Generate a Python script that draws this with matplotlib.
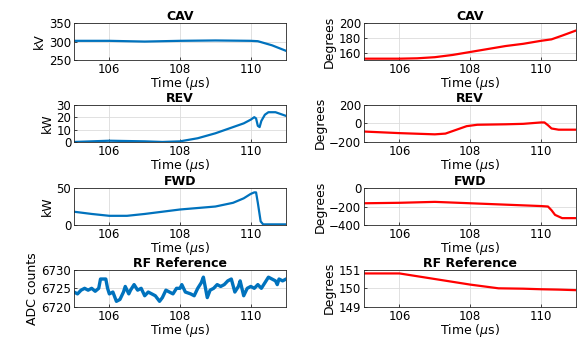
import matplotlib
matplotlib.use("Agg")
import matplotlib.pyplot as plt

plt.rcParams["font.family"] = ["DejaVu Sans"]
plt.rcParams["mathtext.fontset"] = "dejavusans"

BLUE = "#0072BD"
RED = "#FF0000"

# amplitude traces (left column)
cav_amp_t = [105.0, 106.0, 107.0, 108.0, 109.0, 110.0, 110.2, 110.6, 111.0]
cav_amp = [302, 302, 300, 302, 303, 302, 301, 290, 275]

rev_amp_t = [105.0, 106.0, 107.0, 107.5, 108.0, 108.5, 109.0, 109.5, 109.8, 110.0,
             110.1, 110.15, 110.2, 110.25, 110.3, 110.4, 110.5, 110.7, 111.0]
rev_amp = [0, 1, 0.5, 0, 0.5, 3, 7, 12, 15, 18, 20, 19, 13, 12, 17, 22, 24, 24, 21]

fwd_amp_t = [105.0, 105.5, 106.0, 106.5, 107.0, 107.5, 108.0, 108.5, 109.0, 109.5,
             109.8, 110.0, 110.1, 110.15, 110.2, 110.28, 110.35, 111.0]
fwd_amp = [18, 15, 12.5, 12.5, 15, 18, 21, 23, 25, 30, 36, 42, 44, 44, 30, 5, 1, 1]

ref_amp_t = [105.0, 105.1, 105.2, 105.3, 105.4, 105.5, 105.6, 105.7, 105.75, 105.9,
             105.95, 106.0, 106.1, 106.2, 106.3, 106.4, 106.45, 106.55, 106.6, 106.7,
             106.8, 106.9, 107.0, 107.1, 107.2, 107.3, 107.42, 107.5, 107.6, 107.7,
             107.8, 107.9, 108.0, 108.05, 108.15, 108.3, 108.4, 108.5, 108.6, 108.66,
             108.77, 108.85, 108.95, 109.05, 109.15, 109.25, 109.35, 109.45, 109.55, 109.65,
             109.7, 109.8, 109.9, 110.0, 110.1, 110.2, 110.3, 110.4, 110.5, 110.6,
             110.7, 110.75, 110.8, 110.9, 111.0]
ref_amp = [6724, 6723.5, 6724.5, 6725, 6724.5, 6725, 6724.2, 6725, 6727.5, 6727.5,
           6725, 6723.5, 6724, 6721.5, 6722, 6724, 6725.5, 6723.5, 6724.5, 6726,
           6724.5, 6725, 6723, 6724, 6723.5, 6723, 6721.5, 6722.5, 6724.5, 6724,
           6723.5, 6725, 6725, 6726, 6724, 6723.5, 6723, 6725, 6726.5, 6728,
           6722.5, 6724.5, 6725, 6726, 6725.5, 6726, 6727, 6727.5, 6724, 6725.5,
           6727, 6723, 6725, 6725.5, 6725, 6726, 6725, 6726.5, 6728, 6727.5,
           6727, 6726, 6727.5, 6727, 6727.5]

# phase traces (right column)
cav_ph_t = [105.0, 106.0, 106.5, 107.0, 107.5, 108.0, 108.5, 109.0, 109.5, 110.0,
            110.3, 110.6, 111.0]
cav_ph = [152, 152, 152.5, 154, 157, 161, 165, 169, 172, 176, 178, 183, 190]

rev_ph_t = [105.0, 106.0, 107.0, 107.3, 107.6, 107.9, 108.2, 109.0, 109.5, 110.0,
            110.1, 110.2, 110.3, 110.5, 111.0]
rev_ph = [-88, -105, -118, -110, -70, -30, -15, -10, -5, 10, 10, -20, -55, -68, -68]

fwd_ph_t = [105.0, 106.0, 107.0, 108.0, 109.0, 110.0, 110.2, 110.3, 110.4, 110.6, 111.0]
fwd_ph = [-165, -160, -150, -165, -180, -195, -200, -240, -290, -325, -325]

ref_ph_t = [105.0, 105.5, 106.0, 106.5, 107.0, 107.5, 108.0, 108.4, 108.8, 109.5, 110.0, 110.5, 111.0]
ref_ph = [150.8, 150.8, 150.8, 150.65, 150.5, 150.35, 150.2, 150.1, 150.0, 149.98, 149.95, 149.93, 149.9]

panels = [
    ("CAV", cav_amp_t, cav_amp, "kV", (250, 350), [250, 300, 350], BLUE, 0),
    ("CAV", cav_ph_t, cav_ph, "Degrees", (150, 200), [160, 180, 200], RED, 1),
    ("REV", rev_amp_t, rev_amp, "kW", (0, 30), [0, 10, 20, 30], BLUE, 0),
    ("REV", rev_ph_t, rev_ph, "Degrees", (-200, 200), [-200, 0, 200], RED, 1),
    ("FWD", fwd_amp_t, fwd_amp, "kW", (0, 50), [0, 50], BLUE, 0),
    ("FWD", fwd_ph_t, fwd_ph, "Degrees", (-400, 0), [-400, -200, 0], RED, 1),
    ("RF Reference", ref_amp_t, ref_amp, "ADC counts", (6720, 6730), [6720, 6725, 6730], BLUE, 0),
    ("RF Reference", ref_ph_t, ref_ph, "Degrees", (149, 151), [149, 150, 151], RED, 1),
]

fig = plt.figure(figsize=(5.78, 3.38), dpi=100)
lefts = [0.128, 0.630]
bottoms = [0.822, 0.580, 0.334, 0.092]
width, height = 0.367, 0.110

for i, (title, t, y, ylab, ylim, yticks, color, col) in enumerate(panels):
    row = i // 2
    ax = fig.add_axes([lefts[col], bottoms[row], width, height])
    lw = 2.4 if title == "RF Reference" and col == 0 else 1.6
    ax.plot(t, y, color=color, linewidth=lw)
    ax.set_xlim(105, 111)
    ax.set_ylim(*ylim)
    ax.set_xticks([106, 108, 110])
    ax.set_yticks(yticks)
    ax.grid(True, color="#dcdcdc", linewidth=0.6)
    ax.set_axisbelow(True)
    ax.tick_params(direction="in", length=2, width=0.5, labelsize=8.5, pad=2)
    for s in ax.spines.values():
        s.set_linewidth(0.6)
        s.set_color("#262626")
    ax.set_title(title, fontsize=9, fontweight="bold", pad=1.5)
    ax.set_xlabel(r"Time ($\mu$s)", fontsize=9, labelpad=-0.5)
    ax.set_ylabel(ylab, fontsize=9, labelpad=2)

fig.savefig("out.png", dpi=100)
